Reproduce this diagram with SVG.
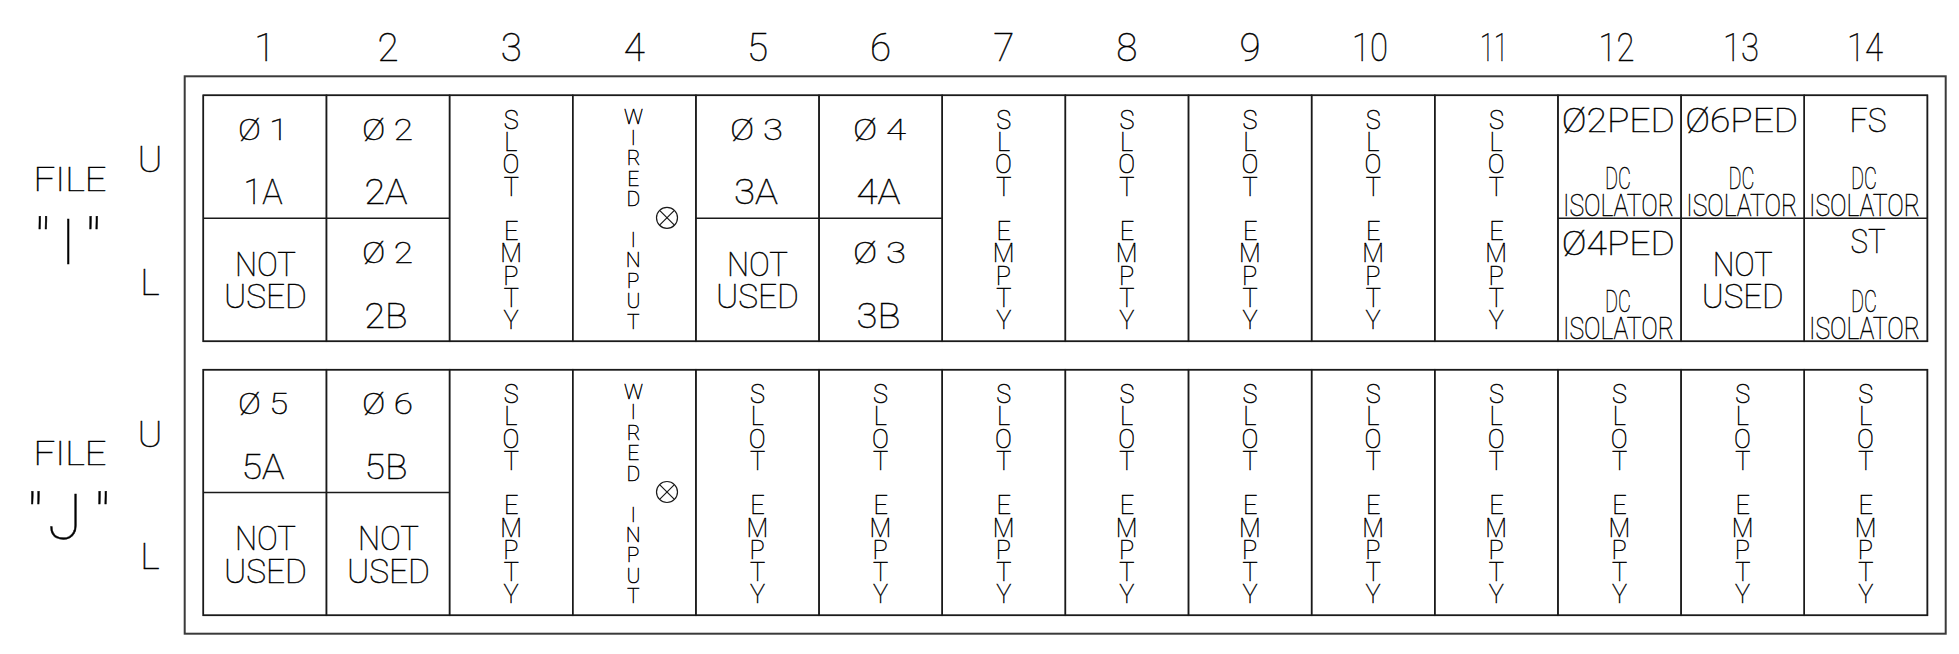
<svg xmlns="http://www.w3.org/2000/svg" width="1959" height="654" viewBox="0 0 1959 654">
<style>
.bg{fill:#ffffff}
.frame{fill:none;stroke:#3a3a3a;stroke-width:2}
.cl{fill:none;stroke:#1a1a1a;stroke-width:1.5}
.sym{fill:none;stroke:#1a1a1a;stroke-width:1.2}
text{font-family:Roboto,"DejaVu Sans",sans-serif;font-weight:100;fill:#000;stroke:#000;stroke-width:0.45px;text-anchor:middle}
.n{font-size:38.5px}
.lbl{font-size:33.3px}
.big{font-size:63px}
.ul{font-size:37.5px}
.ph{font-size:29.5px}
.id{font-size:34.5px}
.nu{font-size:33px}
.v{font-size:25.3px;writing-mode:vertical-rl;text-orientation:upright;letter-spacing:-6.75px;text-anchor:start}
.w{font-size:21px;writing-mode:vertical-rl;text-orientation:upright;letter-spacing:-3.55px;text-anchor:start}
.pd{font-size:32.8px}
.dc{font-size:31px}
</style>
<rect class="bg" x="0" y="0" width="1959" height="654"/>

<g id="column-numbers">
<text class="n" x="264.9" y="60.7">1</text>
<text class="n" x="388" y="60.7">2</text>
<text class="n" x="511.2" y="60.7">3</text>
<text class="n" x="634.3" y="60.7">4</text>
<text class="n" x="757.5" y="60.7">5</text>
<text class="n" x="880.6" y="60.7">6</text>
<text class="n" x="1003.8" y="60.7">7</text>
<text class="n" x="1126.9" y="60.7">8</text>
<text class="n" x="1250.1" y="60.7">9</text>
<text class="n" x="1370" y="60.7" textLength="36" lengthAdjust="spacingAndGlyphs">10</text>
<text class="n" x="1494" y="60.7" textLength="28" lengthAdjust="spacingAndGlyphs">11</text>
<text class="n" x="1616.5" y="60.7" textLength="36" lengthAdjust="spacingAndGlyphs">12</text>
<text class="n" x="1741" y="60.7" textLength="36" lengthAdjust="spacingAndGlyphs">13</text>
<text class="n" x="1865" y="60.7" textLength="36" lengthAdjust="spacingAndGlyphs">14</text>
</g>

<g id="file-I-label">
<text class="lbl" x="70" y="191" textLength="73" lengthAdjust="spacingAndGlyphs">FILE</text>
<text class="big"><tspan x="42.2" y="264">"</tspan><tspan x="68.3" y="264">I</tspan><tspan x="93" y="264">"</tspan></text>
<text class="ul" x="150" y="171.7">U</text>
<text class="ul" x="150" y="295">L</text>
</g>
<g id="file-J-label">
<text class="lbl" x="70" y="465.4" textLength="73" lengthAdjust="spacingAndGlyphs">FILE</text>
<text class="big"><tspan x="34.7" y="539.3">"</tspan><tspan x="65" y="539.3">J</tspan><tspan x="102" y="539.3">"</tspan></text>
<text class="ul" x="150" y="446.7">U</text>
<text class="ul" x="150" y="569.3">L</text>
</g>

<g id="frame"><rect class="frame" x="184.7" y="76.3" width="1761" height="557.4"/></g>

<g id="connectors"></g>

<!-- FILE I table -->
<g id="file-I">
<rect class="cl" x="203.3" y="95.3" width="1724.1" height="246"/>

<g id="I-slot1">
<rect class="cl" x="203.3" y="95.3" width="123.15" height="246"/>
<line class="cl" x1="203.3" y1="218.3" x2="326.45" y2="218.3"/>
<text class="ph" x="263" y="139.8" textLength="50" lengthAdjust="spacingAndGlyphs">Ø 1</text>
<text class="id" x="263" y="204.3" textLength="39" lengthAdjust="spacingAndGlyphs">1A</text>
<text class="nu"><tspan x="265.5" y="275.8" textLength="61" lengthAdjust="spacingAndGlyphs">NOT</tspan><tspan x="265.5" y="308.1" textLength="83" lengthAdjust="spacingAndGlyphs">USED</tspan></text>
</g>
<g id="I-slot2">
<rect class="cl" x="326.45" y="95.3" width="123.15" height="246"/>
<line class="cl" x1="326.45" y1="218.3" x2="449.6" y2="218.3"/>
<text class="ph" x="387.5" y="139.8" textLength="51" lengthAdjust="spacingAndGlyphs">Ø 2</text>
<text class="id" x="386" y="204.3" textLength="43" lengthAdjust="spacingAndGlyphs">2A</text>
<text class="ph" x="387.5" y="263" textLength="51" lengthAdjust="spacingAndGlyphs">Ø 2</text>
<text class="id" x="386" y="328.3" textLength="43" lengthAdjust="spacingAndGlyphs">2B</text>
</g>
<g id="I-slot3">
<rect class="cl" x="449.6" y="95.3" width="123.15" height="246"/>
<text class="v" x="511.2" y="105.8">SLOT EMPTY</text>
</g>
<g id="I-slot4">
<rect class="cl" x="572.75" y="95.3" width="123.15" height="246"/>
<text class="w" x="633.3" y="105.3">WIRED INPUT</text>
<circle class="sym" cx="667" cy="217.8" r="10.5"/>
<path class="sym" d="M659.6 210.4L674.4 225.2M674.4 210.4L659.6 225.2"/>
</g>
<g id="I-slot5">
<rect class="cl" x="695.9" y="95.3" width="123.15" height="246"/>
<line class="cl" x1="695.9" y1="218.3" x2="819.05" y2="218.3"/>
<text class="ph" x="756.5" y="139.8" textLength="53" lengthAdjust="spacingAndGlyphs">Ø 3</text>
<text class="id" x="756" y="204.3" textLength="44" lengthAdjust="spacingAndGlyphs">3A</text>
<text class="nu"><tspan x="757.5" y="275.8" textLength="61" lengthAdjust="spacingAndGlyphs">NOT</tspan><tspan x="757.5" y="308.1" textLength="83" lengthAdjust="spacingAndGlyphs">USED</tspan></text>
</g>
<g id="I-slot6">
<rect class="cl" x="819.05" y="95.3" width="123.15" height="246"/>
<line class="cl" x1="819.05" y1="218.3" x2="942.2" y2="218.3"/>
<text class="ph" x="879.5" y="139.8" textLength="53" lengthAdjust="spacingAndGlyphs">Ø 4</text>
<text class="id" x="878.5" y="204.3" textLength="44" lengthAdjust="spacingAndGlyphs">4A</text>
<text class="ph" x="879.5" y="263" textLength="53" lengthAdjust="spacingAndGlyphs">Ø 3</text>
<text class="id" x="878.5" y="328.3" textLength="44" lengthAdjust="spacingAndGlyphs">3B</text>
</g>
<g id="I-slot7">
<rect class="cl" x="942.2" y="95.3" width="123.15" height="246"/>
<text class="v" x="1003.8" y="105.8">SLOT EMPTY</text>
</g>
<g id="I-slot8">
<rect class="cl" x="1065.35" y="95.3" width="123.15" height="246"/>
<text class="v" x="1126.9" y="105.8">SLOT EMPTY</text>
</g>
<g id="I-slot9">
<rect class="cl" x="1188.5" y="95.3" width="123.15" height="246"/>
<text class="v" x="1250.1" y="105.8">SLOT EMPTY</text>
</g>
<g id="I-slot10">
<rect class="cl" x="1311.65" y="95.3" width="123.15" height="246"/>
<text class="v" x="1373.2" y="105.8">SLOT EMPTY</text>
</g>
<g id="I-slot11">
<rect class="cl" x="1434.8" y="95.3" width="123.15" height="246"/>
<text class="v" x="1496.4" y="105.8">SLOT EMPTY</text>
</g>
<g id="I-slot12">
<rect class="cl" x="1557.95" y="95.3" width="123.15" height="246"/>
<line class="cl" x1="1557.95" y1="218.3" x2="1681.1" y2="218.3"/>
<text class="pd" x="1618.3" y="131.7" textLength="113" lengthAdjust="spacingAndGlyphs">Ø2PED</text>
<text class="dc"><tspan x="1618" y="189" textLength="26" lengthAdjust="spacingAndGlyphs">DC</tspan><tspan x="1618.5" y="216" textLength="111" lengthAdjust="spacingAndGlyphs">ISOLATOR</tspan></text>
<text class="pd" x="1618.3" y="254.5" textLength="113" lengthAdjust="spacingAndGlyphs">Ø4PED</text>
<text class="dc"><tspan x="1618" y="312" textLength="26" lengthAdjust="spacingAndGlyphs">DC</tspan><tspan x="1618.5" y="339" textLength="111" lengthAdjust="spacingAndGlyphs">ISOLATOR</tspan></text>
</g>
<g id="I-slot13">
<rect class="cl" x="1681.1" y="95.3" width="123.15" height="246"/>
<line class="cl" x1="1681.1" y1="218.3" x2="1804.25" y2="218.3"/>
<text class="pd" x="1741.7" y="131.7" textLength="113" lengthAdjust="spacingAndGlyphs">Ø6PED</text>
<text class="dc"><tspan x="1741.5" y="189" textLength="26" lengthAdjust="spacingAndGlyphs">DC</tspan><tspan x="1741.7" y="216" textLength="111" lengthAdjust="spacingAndGlyphs">ISOLATOR</tspan></text>
<text class="nu"><tspan x="1742.7" y="275.5" textLength="60" lengthAdjust="spacingAndGlyphs">NOT</tspan><tspan x="1742.7" y="307.5" textLength="82" lengthAdjust="spacingAndGlyphs">USED</tspan></text>
</g>
<g id="I-slot14">
<rect class="cl" x="1804.25" y="95.3" width="123.15" height="246"/>
<line class="cl" x1="1804.25" y1="218.3" x2="1927.4" y2="218.3"/>
<text class="pd" x="1868" y="131.7" textLength="37" lengthAdjust="spacingAndGlyphs">FS</text>
<text class="dc"><tspan x="1864" y="189" textLength="26" lengthAdjust="spacingAndGlyphs">DC</tspan><tspan x="1864.5" y="216" textLength="111" lengthAdjust="spacingAndGlyphs">ISOLATOR</tspan></text>
<text class="pd" x="1868" y="253" textLength="35" lengthAdjust="spacingAndGlyphs">ST</text>
<text class="dc"><tspan x="1864" y="312" textLength="26" lengthAdjust="spacingAndGlyphs">DC</tspan><tspan x="1864.5" y="339" textLength="111" lengthAdjust="spacingAndGlyphs">ISOLATOR</tspan></text>
</g>
</g>

<!-- FILE J table -->
<g id="file-J">
<rect class="cl" x="203.3" y="369.7" width="1724.1" height="245.6"/>

<g id="J-slot1">
<rect class="cl" x="203.3" y="369.7" width="123.15" height="245.6"/>
<line class="cl" x1="203.3" y1="492.5" x2="326.45" y2="492.5"/>
<text class="ph" x="263" y="413.5" textLength="50" lengthAdjust="spacingAndGlyphs">Ø 5</text>
<text class="id" x="263" y="478.5" textLength="43" lengthAdjust="spacingAndGlyphs">5A</text>
<text class="nu"><tspan x="265.5" y="550.2" textLength="61" lengthAdjust="spacingAndGlyphs">NOT</tspan><tspan x="265.5" y="582.5" textLength="83" lengthAdjust="spacingAndGlyphs">USED</tspan></text>
</g>
<g id="J-slot2">
<rect class="cl" x="326.45" y="369.7" width="123.15" height="245.6"/>
<line class="cl" x1="326.45" y1="492.5" x2="449.6" y2="492.5"/>
<text class="ph" x="387.5" y="413.5" textLength="51" lengthAdjust="spacingAndGlyphs">Ø 6</text>
<text class="id" x="386" y="478.5" textLength="43" lengthAdjust="spacingAndGlyphs">5B</text>
<text class="nu"><tspan x="388.5" y="550.2" textLength="61" lengthAdjust="spacingAndGlyphs">NOT</tspan><tspan x="388.5" y="582.5" textLength="83" lengthAdjust="spacingAndGlyphs">USED</tspan></text>
</g>
<g id="J-slot3">
<rect class="cl" x="449.6" y="369.7" width="123.15" height="245.6"/>
<text class="v" x="511.2" y="380.2">SLOT EMPTY</text>
</g>
<g id="J-slot4">
<rect class="cl" x="572.75" y="369.7" width="123.15" height="245.6"/>
<text class="w" x="633.3" y="379.9">WIRED INPUT</text>
<circle class="sym" cx="667" cy="492" r="10.5"/>
<path class="sym" d="M659.6 484.6L674.4 499.4M674.4 484.6L659.6 499.4"/>
</g>
<g id="J-slot5">
<rect class="cl" x="695.9" y="369.7" width="123.15" height="245.6"/>
<text class="v" x="757.5" y="380.2">SLOT EMPTY</text>
</g>
<g id="J-slot6">
<rect class="cl" x="819.05" y="369.7" width="123.15" height="245.6"/>
<text class="v" x="880.6" y="380.2">SLOT EMPTY</text>
</g>
<g id="J-slot7">
<rect class="cl" x="942.2" y="369.7" width="123.15" height="245.6"/>
<text class="v" x="1003.8" y="380.2">SLOT EMPTY</text>
</g>
<g id="J-slot8">
<rect class="cl" x="1065.35" y="369.7" width="123.15" height="245.6"/>
<text class="v" x="1126.9" y="380.2">SLOT EMPTY</text>
</g>
<g id="J-slot9">
<rect class="cl" x="1188.5" y="369.7" width="123.15" height="245.6"/>
<text class="v" x="1250.1" y="380.2">SLOT EMPTY</text>
</g>
<g id="J-slot10">
<rect class="cl" x="1311.65" y="369.7" width="123.15" height="245.6"/>
<text class="v" x="1373.2" y="380.2">SLOT EMPTY</text>
</g>
<g id="J-slot11">
<rect class="cl" x="1434.8" y="369.7" width="123.15" height="245.6"/>
<text class="v" x="1496.4" y="380.2">SLOT EMPTY</text>
</g>
<g id="J-slot12">
<rect class="cl" x="1557.95" y="369.7" width="123.15" height="245.6"/>
<text class="v" x="1619.5" y="380.2">SLOT EMPTY</text>
</g>
<g id="J-slot13">
<rect class="cl" x="1681.1" y="369.7" width="123.15" height="245.6"/>
<text class="v" x="1742.7" y="380.2">SLOT EMPTY</text>
</g>
<g id="J-slot14">
<rect class="cl" x="1804.25" y="369.7" width="123.15" height="245.6"/>
<text class="v" x="1865.8" y="380.2">SLOT EMPTY</text>
</g>
</g>
</svg>
